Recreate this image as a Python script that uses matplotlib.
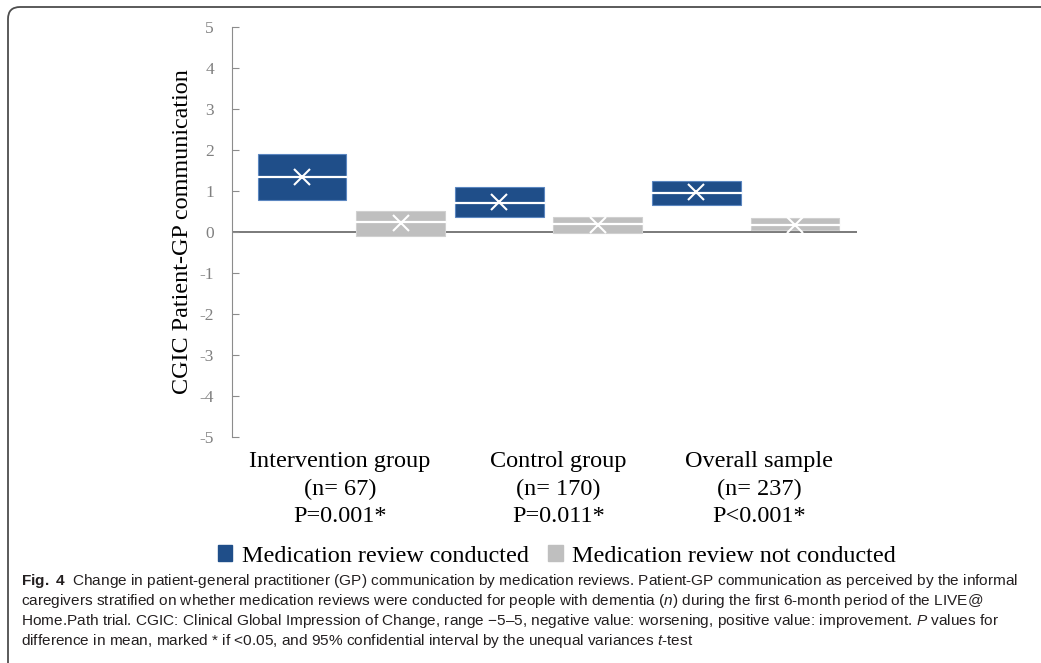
import matplotlib
matplotlib.use("Agg")
import matplotlib.pyplot as plt
from matplotlib.patches import Rectangle, Patch, FancyBboxPatch
from matplotlib import font_manager

# data (CGIC change, 95% CI box, mean line, mean marker)
groups = ["Intervention group", "Control group", "Overall sample"]
n_labels = ["(n= 67)", "(n= 170)", "(n= 237)"]
p_labels = ["P=0.001*", "P=0.011*", "P<0.001*"]
series = ["Medication review conducted", "Medication review not conducted"]

ci_low_yes = [0.78, 0.37, 0.66]
ci_high_yes = [1.90, 1.09, 1.25]
mid_yes = [1.33, 0.71, 0.96]
mean_yes = [1.33, 0.74, 0.97]

ci_low_no = [-0.09, -0.03, 0.05]
ci_high_no = [0.52, 0.37, 0.33]
mid_no = [0.24, 0.19, 0.17]
mean_no = [0.21, 0.17, 0.17]

yticks = [-5, -4, -3, -2, -1, 0, 1, 2, 3, 4, 5]

caption = [
    r"$\mathbf{Fig.\ 4}$  Change in patient-general practitioner (GP) communication by medication reviews. Patient-GP communication as perceived by the informal",
    r"caregivers stratified on whether medication reviews were conducted for people with dementia ($\mathit{n}$) during the first 6-month period of the LIVE@",
    "Home.Path trial. CGIC: Clinical Global Impression of Change, range \u22125\u20135, negative value: worsening, positive value: improvement. $\\mathit{P}$ values for",
    r"difference in mean, marked * if <0.05, and 95% confidential interval by the unequal variances $\mathit{t}$-test",
]

blue = "#1f4e89"
grey = "#bfbfbf"
W, H = 1041, 663

names = {f.name for f in font_manager.fontManager.ttflist}
cap_font = "Liberation Sans Narrow" if "Liberation Sans Narrow" in names else "Liberation Sans"
serif = "Liberation Serif"

plt.rcParams["mathtext.fontset"] = "custom"
plt.rcParams["mathtext.rm"] = cap_font
plt.rcParams["mathtext.it"] = cap_font + ":italic"
plt.rcParams["mathtext.bf"] = cap_font + ":bold"

fig = plt.figure(figsize=(W / 100, H / 100), dpi=100)
ax = fig.add_axes([232 / W, 226 / H, 625 / W, 410 / H])

box_w = 0.9
for i in range(len(groups)):
    for k, (lo, hi, md, mn, col) in enumerate([
        (ci_low_yes, ci_high_yes, mid_yes, mean_yes, blue),
        (ci_low_no, ci_high_no, mid_no, mean_no, grey),
    ]):
        x = 2 * i + k
        edge = "#5b86c0" if col == blue else "#d0d0d0"
        ax.add_patch(Rectangle((x - box_w / 2, lo[i]), box_w, hi[i] - lo[i],
                               facecolor=col, edgecolor=edge, lw=0.8, zorder=2))
        ax.plot([x - box_w / 2, x + box_w / 2], [md[i], md[i]], color="white", lw=1.6, zorder=3)
        ax.plot([x], [mn[i]], marker="x", color="white", ms=11, mew=1.5, zorder=4)

ax.axhline(0, color="#707070", lw=1.3, zorder=1)
ax.set_xlim(-0.71, 5.63)
ax.set_ylim(-5, 5)
ax.set_yticks(yticks)
ax.set_yticklabels([str(v) for v in yticks], family=serif, fontsize=12.5, color="#808080")
ax.set_xticks([])
for s in ["top", "right", "bottom"]:
    ax.spines[s].set_visible(False)
ax.spines["left"].set_color("#8c8c8c")
ax.tick_params(axis="y", direction="in", length=5, color="#8c8c8c", pad=13)

fig.text(182 / W, 1 - 232 / H, "CGIC Patient-GP communication", rotation=90,
         ha="center", va="center", family=serif, fontsize=17.4)

label_x = [0.173, 0.522, 0.843]
for i in range(len(groups)):
    for j, s in enumerate([groups[i], n_labels[i], p_labels[i]]):
        ax.text(label_x[i], (663 - (461 + 28 * j) - 226) / 410, s, transform=ax.transAxes,
                ha="center", va="center", family=serif, fontsize=17.5)

handles = [Patch(facecolor=blue, edgecolor=blue), Patch(facecolor=grey, edgecolor=grey)]
fig.legend(handles, series, loc="center", bbox_to_anchor=(557 / W, 1 - 556 / H), ncol=2,
           frameon=False, prop={"family": serif, "size": 17.4}, handlelength=0.6,
           handleheight=0.6, handletextpad=0.4, columnspacing=0.8, borderpad=0)

# caption, sized so the first line spans the same width as in the figure
renderer = fig.canvas.get_renderer()
probe = fig.text(0, 0, caption[0], family=cap_font, fontsize=10)
wpx = probe.get_window_extent(renderer).width
probe.remove()
cap_size = 10 * 998 / wpx
for j, line in enumerate(caption):
    fig.text(21 / W, 1 - (581 + 20 * j) / H, line, family=cap_font, fontsize=cap_size,
             color="#231f20", ha="left", va="center")

frame = FancyBboxPatch((0.08, -1.0), 11.0, 7.56, boxstyle="round,pad=0,rounding_size=0.12",
                       transform=fig.dpi_scale_trans, facecolor="none", edgecolor="#4d4d4d",
                       lw=1.3, clip_on=False)
fig.patches.append(frame)

fig.savefig("out.png", dpi=100)
